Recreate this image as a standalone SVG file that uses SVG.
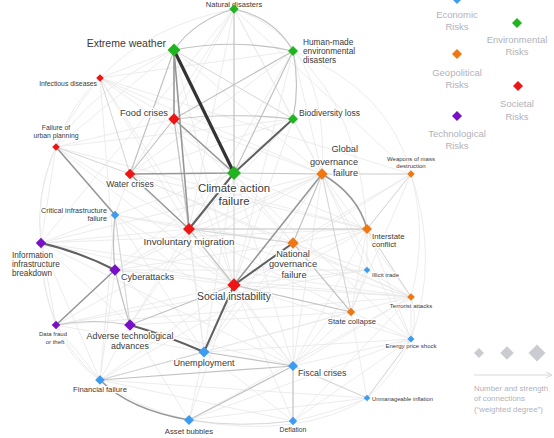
<svg xmlns="http://www.w3.org/2000/svg" width="554" height="438" viewBox="0 0 554 438">
<defs>
<style>
.e1{fill:none;stroke:#e7e7e7;stroke-width:0.8}
.e2{fill:none;stroke:#d6d6d6;stroke-width:1}
.e3{fill:none;stroke:#c2c2c2;stroke-width:1.2}
.e4{fill:none;stroke:#979797;stroke-width:1.6}
.e5{fill:none;stroke:#606060;stroke-width:2}
.e6{fill:none;stroke:#333;stroke-width:3.2}
text{font-family:"Liberation Sans",Arial,sans-serif;}
.l{fill:#3a3a3a;stroke:#fff;stroke-width:2.5;paint-order:stroke;stroke-linejoin:round}
.lg{fill:#b2b2ba;font-size:9.5px;text-anchor:middle}
.m{text-anchor:middle}.s{text-anchor:start}.n{text-anchor:end}
.env{fill:#20b520}.soc{fill:#ee1515}.geo{fill:#f07812}.eco{fill:#3d9bf2}.tec{fill:#7a10c6}
</style>
<marker id="ah" viewBox="0 0 6 6" refX="5" refY="3" markerWidth="6" markerHeight="6" orient="auto">
<path d="M0 0L6 3 0 6" fill="none" stroke="#d6d6dc" stroke-width="1"/>
</marker>
</defs>
<rect width="554" height="438" fill="#fff"/>
<g id="connectors">
<path class="e1" d="M100 78Q70 105 56 147M56 147Q35 195 41 243M41 243Q42 290 56 325M56 325Q70 360 100 380M100 380Q140 410 189 420M293 421Q335 412 367 398M367 398Q395 375 411 339M411 339Q418 318 411 297M411 297Q428 235 411 174M411 174Q390 90 293 51M234 9Q150 25 100 78M234 9Q330 40 322 174M174 50Q90 90 56 147M293 51Q360 110 367 229M100 78Q30 160 41 243M41 243Q40 330 100 380M189 420Q300 440 367 398M411 174Q440 260 411 339
M234 9L174 119M234 9L293 119M234 9L130 174M234 9L189 229M234 9L322 174M174 50L100 78M174 50L322 174M174 50L234 285M174 50L56 147M293 51L130 174M293 51L189 229M293 51L322 174M293 51L234 285M100 78L174 119M100 78L234 173M100 78L189 229M100 78L234 285M100 78L322 174M100 78L115 270M56 147L189 229M56 147L234 285M56 147L41 243M56 147L174 119M174 119L234 285M174 119L322 174M174 119L293 243M174 119L204 352M293 119L322 174M293 119L189 229M293 119L130 174M293 119L234 285M130 174L234 285M130 174L293 243M130 174L367 229M130 174L115 215M234 173L293 243M234 173L367 229M234 173L234 285M234 173L204 352M234 173L293 366M234 173L115 215M234 173L130 325M322 174L411 174M322 174L411 297M322 174L351 312M322 174L367 270M322 174L204 352M322 174L293 366M322 174L189 229M322 174L115 270M322 174L411 339M411 174L367 229M411 174L351 312M411 174L293 243M411 174L234 285M115 215L41 243M115 215L189 229M115 215L234 285M115 215L130 325M115 215L100 380M115 215L204 352M115 215L293 243M115 215L293 366M189 229L411 297M189 229L351 312M189 229L204 352M189 229L293 366M189 229L115 270M189 229L293 243M189 229L130 325M367 229L293 243M367 229L351 312M367 229L411 297M367 229L234 285M367 229L367 270M367 229L411 339M367 229L293 366M293 243L367 270M293 243L411 297M293 243L293 366M293 243L204 352M293 243L115 270M41 243L56 325M41 243L130 325M41 243L234 285M41 243L100 380M41 243L189 229M41 243L411 297M41 243L367 229M115 270L234 285M115 270L204 352M115 270L100 380M115 270L411 297M115 270L367 270M367 270L351 312M367 270L411 297M367 270L293 366M367 270L234 285M234 285L411 297M234 285L293 366M234 285L100 380M234 285L189 420M234 285L411 339M234 285L56 325M411 297L351 312M411 297L411 339M411 297L293 366M56 325L100 380M56 325L204 352M56 325L411 297M130 325L100 380M130 325L293 366M130 325L189 420M130 325L351 312M351 312L293 366M351 312L411 339M351 312L204 352M351 312L367 398M411 339L293 366M411 339L367 398M411 339L204 352M411 339L189 420M411 339L293 421M204 352L189 420M204 352L293 421M204 352L100 380M100 380L293 421M100 380L367 398M293 366L367 398M189 420L367 398M56 147L367 229M100 78L411 174M56 325L367 270M100 380L351 312M41 243L293 366M130 174L411 297M174 119L411 339M293 119L115 270M234 9L41 243M234 9L411 174M100 78L293 51M56 147L293 119M41 243L322 174M56 325L322 174M100 380L367 229M189 420L411 297M293 421L411 297M293 421L234 285"/>
<path class="e2" d="M174 50L293 119M100 78L130 174M56 147L130 174M189 420Q240 428 293 421M293 366L367 398M322 174L411 174M367 229L411 297M367 229L411 174M411 339L367 398M100 380L204 352M322 174L351 312M189 229L293 243M234 173L234 285M130 325L115 215"/>
<path class="e3" d="M234 9L234 173M234 9Q195 20 174 50M234 9Q275 18 293 51M293 51Q300 85 293 119M174 50Q234 38 293 51M293 51L234 173M293 51L174 119M174 119Q234 112 293 119M174 119L130 174M174 119L189 229M174 50L130 174M189 229L234 285M189 229L367 229M234 173L322 174M322 174L293 243M234 285L351 312M115 270Q122 300 130 325M56 325Q93 318 130 325M115 215Q112 243 115 270M130 325L234 285M100 380L293 366M204 352L293 366M189 420L293 366M293 366L293 421M293 243L351 312"/>
<path class="e4" d="M174 50L174 119M174 50L189 229M174 119L234 173M130 174L234 173M130 174L189 229M56 147L115 215M322 174Q358 195 367 229M115 270L56 325M100 380Q130 410 189 420M322 174L234 285"/>
<path class="e5" d="M293 119L234 173M234 173L189 229M234 285L293 243M234 285L204 352M41 243Q80 252 115 270M130 325Q165 335 204 352"/>
<path class="e6" d="M174 50L234 173"/>
</g>
<g id="n-natural-disasters"><text class="l m" x="234" y="6.5" font-size="7.5">Natural disasters</text><path class="env" transform="translate(234 9)" d="M0-4.7L4.7 0 0 4.7-4.7 0Z"/></g>
<g id="n-extreme-weather"><path class="env" transform="translate(174 50)" d="M0-6.5L6.5 0 0 6.5-6.5 0Z"/><text class="l n" x="166" y="47" font-size="10.5">Extreme weather</text></g>
<g id="n-human-made"><path class="env" transform="translate(293 51)" d="M0-5L5 0 0 5-5 0Z"/><text class="l s" font-size="8.3"><tspan x="303" y="45">Human-made</tspan><tspan x="303" y="54">environmental</tspan><tspan x="303" y="63">disasters</tspan></text></g>
<g id="n-infectious-diseases"><path class="soc" transform="translate(100 78)" d="M0-3.8L3.8 0 0 3.8-3.8 0Z"/><text class="l n" x="97" y="85.5" font-size="6.8">Infectious diseases</text></g>
<g id="n-food-crises"><path class="soc" transform="translate(174 119)" d="M0-5.7L5.7 0 0 5.7-5.7 0Z"/><text class="l n" x="168" y="115.5" font-size="9.3">Food crises</text></g>
<g id="n-biodiversity-loss"><path class="env" transform="translate(293 119)" d="M0-5L5 0 0 5-5 0Z"/><text class="l s" x="299" y="116" font-size="8.5">Biodiversity loss</text></g>
<g id="n-urban-planning"><path class="soc" transform="translate(56 147)" d="M0-3.8L3.8 0 0 3.8-3.8 0Z"/><text class="l m" font-size="6.8"><tspan x="56" y="129.5">Failure of</tspan><tspan x="56" y="137.5">urban planning</tspan></text></g>
<g id="n-water-crises"><path class="soc" transform="translate(130 174)" d="M0-5.3L5.3 0 0 5.3-5.3 0Z"/><text class="l m" x="130" y="187" font-size="8.6">Water crises</text></g>
<g id="n-climate-action-failure"><path class="env" transform="translate(234 173)" d="M0-7L7 0 0 7-7 0Z"/><text class="l m" font-size="11.4"><tspan x="234" y="192">Climate action</tspan><tspan x="234" y="204.5">failure</tspan></text></g>
<g id="n-global-governance"><path class="geo" transform="translate(322 174)" d="M0-5.7L5.7 0 0 5.7-5.7 0Z"/><text class="l n" font-size="9.2"><tspan x="358" y="152">Global</tspan><tspan x="358" y="164.5">governance</tspan><tspan x="358" y="176">failure</tspan></text></g>
<g id="n-weapons"><path class="geo" transform="translate(411 174)" d="M0-3.7L3.7 0 0 3.7-3.7 0Z"/><text class="l m" font-size="6"><tspan x="411" y="161">Weapons of mass</tspan><tspan x="411" y="168">destruction</tspan></text></g>
<g id="n-critical-infrastructure"><path class="eco" transform="translate(115 215)" d="M0-4.2L4.2 0 0 4.2-4.2 0Z"/><text class="l n" font-size="7.2"><tspan x="107" y="213">Critical infrastructure</tspan><tspan x="107" y="221">failure</tspan></text></g>
<g id="n-involuntary-migration"><path class="soc" transform="translate(189 229)" d="M0-6L6 0 0 6-6 0Z"/><text class="l m" x="189" y="244.5" font-size="9.8">Involuntary migration</text></g>
<g id="n-interstate-conflict"><path class="geo" transform="translate(367 229)" d="M0-5L5 0 0 5-5 0Z"/><text class="l s" font-size="7.8"><tspan x="372" y="238.5">Interstate</tspan><tspan x="372" y="247">conflict</tspan></text></g>
<g id="n-national-governance"><path class="geo" transform="translate(293 243)" d="M0-5.7L5.7 0 0 5.7-5.7 0Z"/><text class="l m" font-size="9.2"><tspan x="293" y="257">National</tspan><tspan x="293" y="267">governance</tspan><tspan x="294" y="277.5">failure</tspan></text></g>
<g id="n-information-infrastructure"><path class="tec" transform="translate(41 243)" d="M0-5.2L5.2 0 0 5.2-5.2 0Z"/><text class="l s" font-size="8.2"><tspan x="12" y="258">Information</tspan><tspan x="12" y="267">infrastructure</tspan><tspan x="12" y="276">breakdown</tspan></text></g>
<g id="n-cyberattacks"><path class="tec" transform="translate(115 270)" d="M0-5.7L5.7 0 0 5.7-5.7 0Z"/><text class="l s" x="121" y="280" font-size="9.1">Cyberattacks</text></g>
<g id="n-illicit-trade"><path class="eco" transform="translate(367 270)" d="M0-3.3L3.3 0 0 3.3-3.3 0Z"/><text class="l s" x="372" y="277" font-size="6">Illicit trade</text></g>
<g id="n-social-instability"><path class="soc" transform="translate(234 285)" d="M0-6.7L6.7 0 0 6.7-6.7 0Z"/><text class="l m" x="234" y="300" font-size="10.4">Social instability</text></g>
<g id="n-terrorist-attacks"><path class="geo" transform="translate(411 297)" d="M0-3.8L3.8 0 0 3.8-3.8 0Z"/><text class="l m" x="411" y="308" font-size="6">Terrorist attacks</text></g>
<g id="n-state-collapse"><path class="geo" transform="translate(351 312)" d="M0-4.2L4.2 0 0 4.2-4.2 0Z"/><text class="l m" x="352" y="324" font-size="7.7">State collapse</text></g>
<g id="n-data-fraud"><path class="tec" transform="translate(56 325)" d="M0-4.3L4.3 0 0 4.3-4.3 0Z"/><text class="l m" font-size="6"><tspan x="53" y="336">Data fraud</tspan><tspan x="55" y="344">or theft</tspan></text></g>
<g id="n-adverse-tech"><path class="tec" transform="translate(130 325)" d="M0-5.8L5.8 0 0 5.8-5.8 0Z"/><text class="l m" font-size="8.9"><tspan x="130" y="339">Adverse technological</tspan><tspan x="130" y="348.5">advances</tspan></text></g>
<g id="n-energy-price-shock"><path class="eco" transform="translate(411 339)" d="M0-3.5L3.5 0 0 3.5-3.5 0Z"/><text class="l m" x="411" y="348" font-size="6">Energy price shock</text></g>
<g id="n-unemployment"><path class="eco" transform="translate(204 352)" d="M0-5.5L5.5 0 0 5.5-5.5 0Z"/><text class="l m" x="204" y="366" font-size="9.1">Unemployment</text></g>
<g id="n-financial-failure"><path class="eco" transform="translate(100 380)" d="M0-4.8L4.8 0 0 4.8-4.8 0Z"/><text class="l m" x="100" y="391.5" font-size="7.7">Financial failure</text></g>
<g id="n-fiscal-crises"><path class="eco" transform="translate(293 366)" d="M0-5L5 0 0 5-5 0Z"/><text class="l s" x="298" y="375.5" font-size="8.8">Fiscal crises</text></g>
<g id="n-unmanageable-inflation"><path class="eco" transform="translate(367 398)" d="M0-3.3L3.3 0 0 3.3-3.3 0Z"/><text class="l s" x="372" y="401" font-size="5.8">Unmanageable inflation</text></g>
<g id="n-asset-bubbles"><path class="eco" transform="translate(189 420)" d="M0-5L5 0 0 5-5 0Z"/><text class="l m" x="189" y="433.5" font-size="7.7">Asset bubbles</text></g>
<g id="n-deflation"><path class="eco" transform="translate(293 421)" d="M0-4.2L4.2 0 0 4.2-4.2 0Z"/><text class="l m" x="293" y="431.5" font-size="6.8">Deflation</text></g>
<g id="legend">
<path class="eco" transform="translate(457 -1)" d="M0-5L5 0 0 5-5 0Z"/>
<text class="lg"><tspan x="457" y="17.5">Economic</tspan><tspan x="457" y="29.5">Risks</tspan></text>
<path class="env" transform="translate(517 23)" d="M0-5L5 0 0 5-5 0Z"/>
<text class="lg"><tspan x="517" y="43">Environmental</tspan><tspan x="517" y="55">Risks</tspan></text>
<path class="geo" transform="translate(457 54)" d="M0-5L5 0 0 5-5 0Z"/>
<text class="lg"><tspan x="457" y="75.5">Geopolitical</tspan><tspan x="457" y="87.5">Risks</tspan></text>
<path class="soc" transform="translate(518 86)" d="M0-5L5 0 0 5-5 0Z"/>
<text class="lg"><tspan x="517" y="106.5">Societal</tspan><tspan x="517" y="119.5">Risks</tspan></text>
<path class="tec" transform="translate(457 116)" d="M0-5L5 0 0 5-5 0Z"/>
<text class="lg"><tspan x="457" y="136.5">Technological</tspan><tspan x="457" y="148.5">Risks</tspan></text>
</g>
<g id="legend-size">
<path fill="#cbcbd2" transform="translate(479 353)" d="M0-5L5 0 0 5-5 0Z"/>
<path fill="#cbcbd2" transform="translate(507 353)" d="M0-6.8L6.8 0 0 6.8-6.8 0Z"/>
<path fill="#cbcbd2" transform="translate(537 353)" d="M0-8.5L8.5 0 0 8.5-8.5 0Z"/>
<line x1="474" y1="375" x2="551" y2="375" stroke="#d8d8de" stroke-width="1" marker-end="url(#ah)"/>
<text fill="#b2b2ba" font-size="7.9"><tspan x="474" y="390.5">Number and strength</tspan><tspan x="474" y="401">of connections</tspan><tspan x="474" y="412">(“weighted degree”)</tspan></text>
</g>
</svg>
